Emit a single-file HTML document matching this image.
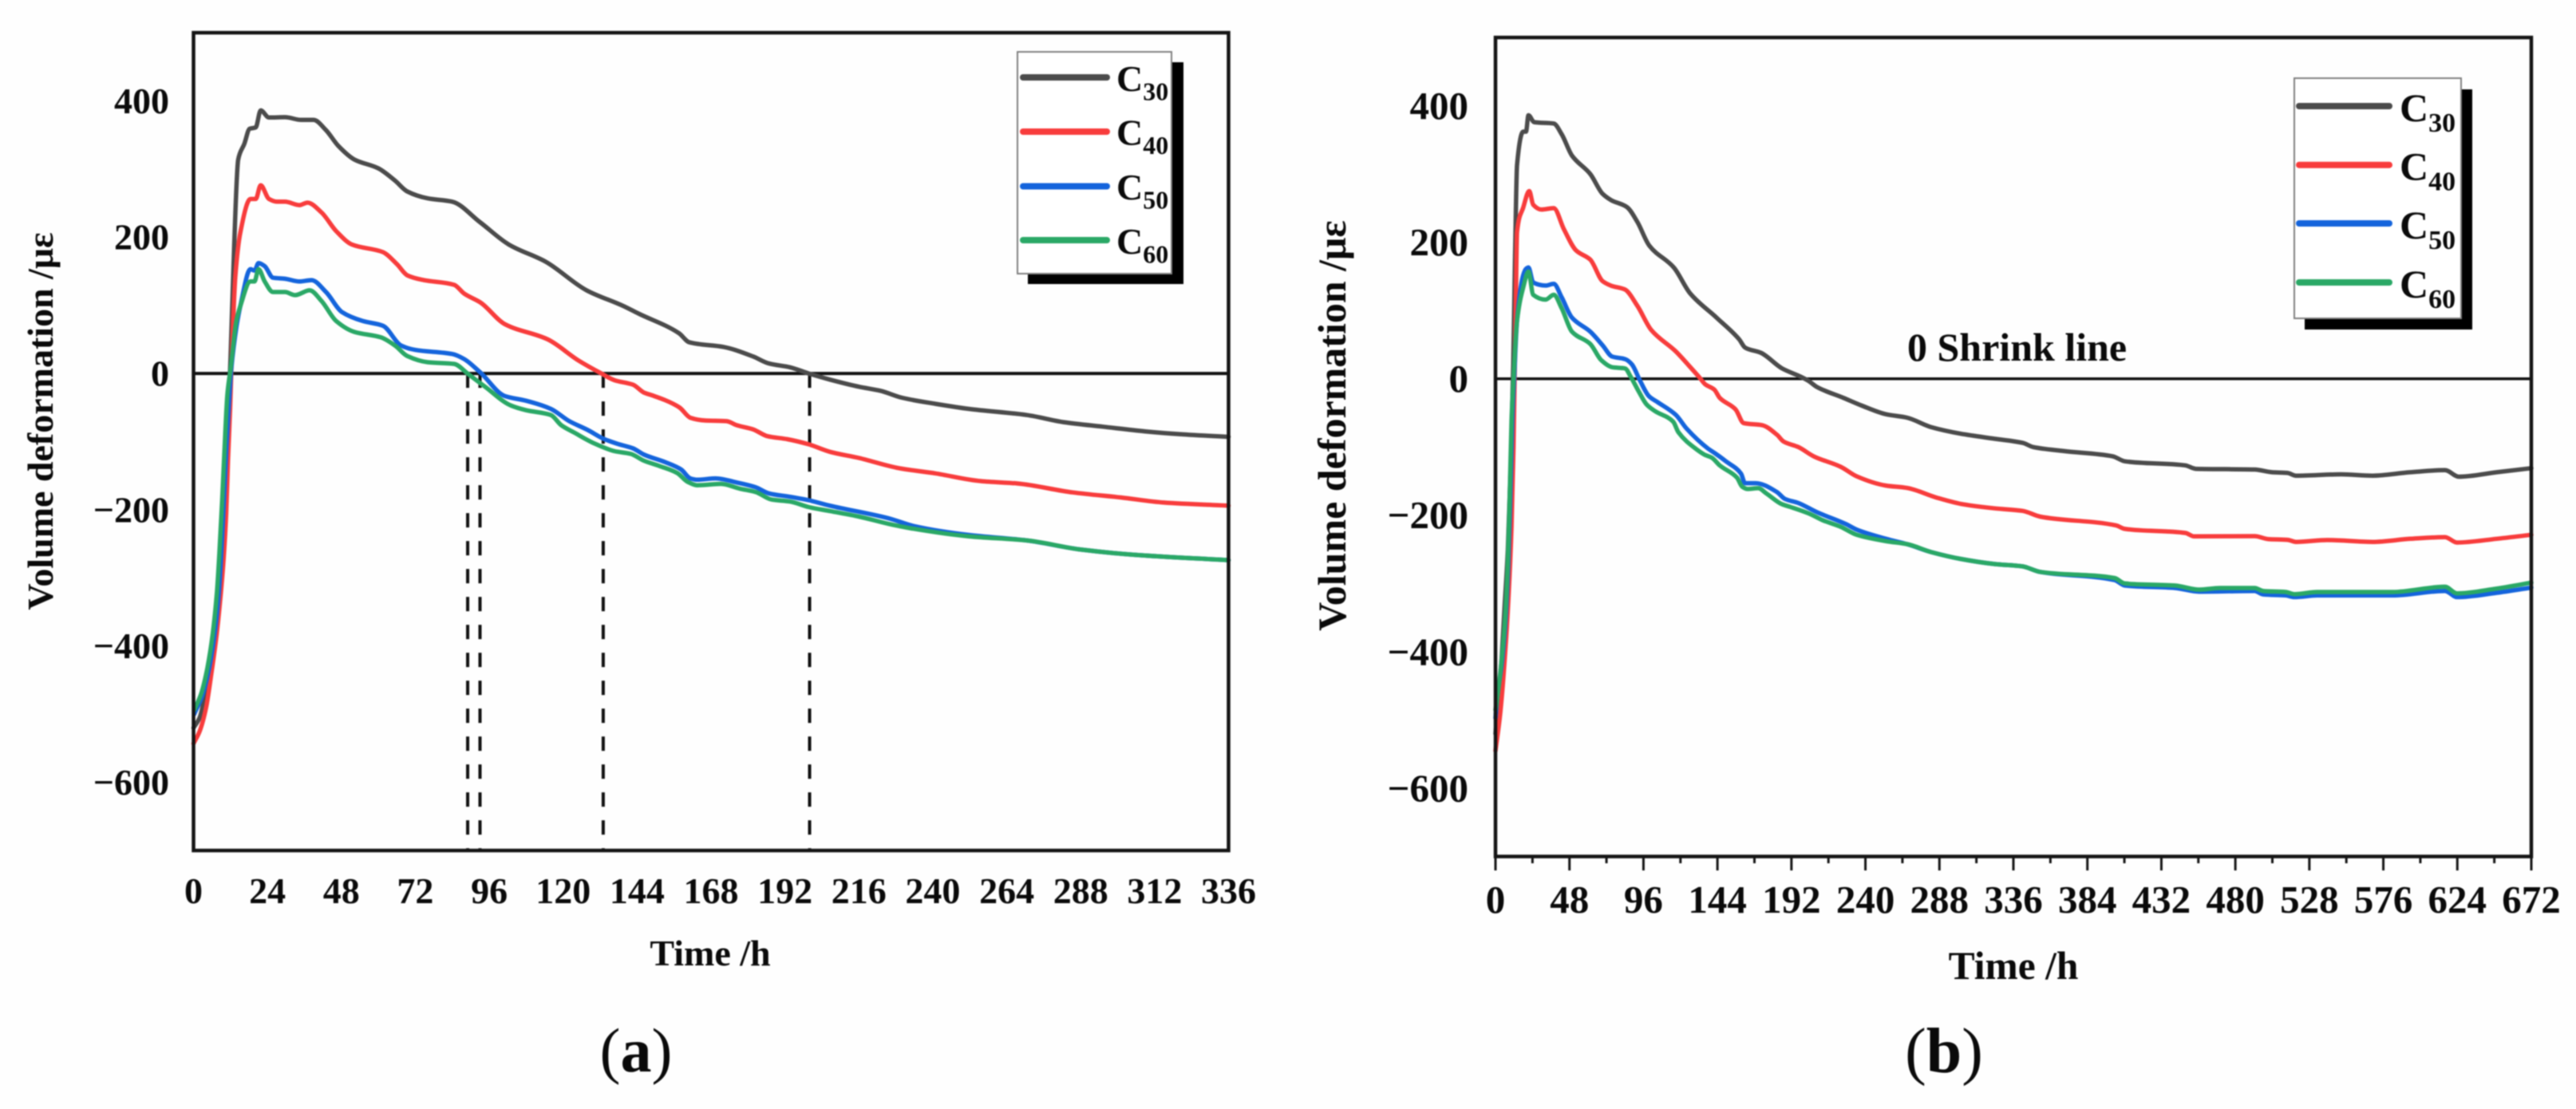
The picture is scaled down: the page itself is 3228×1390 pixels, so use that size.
<!DOCTYPE html>
<html lang="en">
<head>
<meta charset="utf-8">
<title>Volume deformation over time</title>
<style>
html,body{margin:0;padding:0;background:#fff;width:3228px;height:1390px;overflow:hidden}
svg{display:block;filter:blur(0.7px)}
text{font-family:"Liberation Serif",serif;fill:#0a0a0a}
.b{font-weight:bold}
</style>
</head>
<body>
<svg id="chart" xmlns="http://www.w3.org/2000/svg" width="3228" height="1390" viewBox="0 0 3228 1390">
  <rect x="0" y="0" width="3228" height="1390" fill="#fefefe"/>

  <g id="panelA">
    <g id="seriesA"></g>
    <rect x="242.5" y="41" width="1297" height="1025" fill="none" stroke="#141414" stroke-width="4.5"/>
    <g id="labelsA"></g>
    <text class="b" x="890" y="1210" font-size="46" text-anchor="middle">Time /h</text>
    <text class="b" transform="translate(66,528) rotate(-90)" font-size="46" text-anchor="middle">Volume deformation /με</text>
    <g>
      <rect x="1288" y="78" width="195" height="278" fill="#000"/>
      <rect x="1275" y="65" width="193" height="278" fill="#fff" stroke="#808080" stroke-width="2"/>
      <line x1="1282" x2="1387" y1="97" y2="97" stroke="#4b4b4b" stroke-width="8" stroke-linecap="round"/>
      <line x1="1282" x2="1387" y1="165" y2="165" stroke="#f83c3c" stroke-width="8" stroke-linecap="round"/>
      <line x1="1282" x2="1387" y1="233.5" y2="233.5" stroke="#1464dc" stroke-width="8" stroke-linecap="round"/>
      <line x1="1282" x2="1387" y1="301" y2="301" stroke="#2aa866" stroke-width="8" stroke-linecap="round"/>
      <text class="b" x="1399" y="114" font-size="46">C<tspan font-size="32" dy="11.5">30</tspan></text>
      <text class="b" x="1399" y="181.5" font-size="46">C<tspan font-size="32" dy="11.5">40</tspan></text>
      <text class="b" x="1399" y="250" font-size="46">C<tspan font-size="32" dy="11.5">50</tspan></text>
      <text class="b" x="1399" y="318" font-size="46">C<tspan font-size="32" dy="11.5">60</tspan></text>
    </g>
    <text x="797" y="1343" font-size="78" text-anchor="middle">(<tspan font-weight="bold">a</tspan>)</text>
  </g>

  <g id="panelB">
    <g id="seriesB"></g>
    <rect x="1874" y="47" width="1298" height="1026.5" fill="none" stroke="#141414" stroke-width="4.5"/>
    <g id="labelsB"></g>
    <text class="b" x="2523" y="1227" font-size="49.5" text-anchor="middle">Time /h</text>
    <text class="b" transform="translate(1686,533.5) rotate(-90)" font-size="50" text-anchor="middle">Volume deformation /με</text>
    <text class="b" x="2390" y="452" font-size="50">0 Shrink line</text>
    <g>
      <rect x="2888" y="112" width="210" height="301" fill="#000"/>
      <rect x="2875" y="98" width="209" height="301" fill="#fff" stroke="#808080" stroke-width="2"/>
      <line x1="2881" x2="2994" y1="133" y2="133" stroke="#4b4b4b" stroke-width="8" stroke-linecap="round"/>
      <line x1="2881" x2="2994" y1="206.7" y2="206.7" stroke="#f83c3c" stroke-width="8" stroke-linecap="round"/>
      <line x1="2881" x2="2994" y1="280" y2="280" stroke="#1464dc" stroke-width="8" stroke-linecap="round"/>
      <line x1="2881" x2="2994" y1="354" y2="354" stroke="#2aa866" stroke-width="8" stroke-linecap="round"/>
      <text class="b" x="3007" y="152" font-size="50">C<tspan font-size="34" dy="13">30</tspan></text>
      <text class="b" x="3007" y="225.6" font-size="50">C<tspan font-size="34" dy="13">40</tspan></text>
      <text class="b" x="3007" y="299" font-size="50">C<tspan font-size="34" dy="13">50</tspan></text>
      <text class="b" x="3007" y="373" font-size="50">C<tspan font-size="34" dy="13">60</tspan></text>
    </g>
    <text x="2436" y="1344" font-size="80" text-anchor="middle">(<tspan font-weight="bold">b</tspan>)</text>
  </g>
</svg>

<script>
// ---------- Shared axis labels ----------
const yTickValues = [400, 200, 0, -200, -400, -600];
const xTicksA = [0,24,48,72,96,120,144,168,192,216,240,264,288,312,336];
const xTicksB = [0,48,96,144,192,240,288,336,384,432,480,528,576,624,672];
const xMinorTicksB = [24,72,120,168,216,264,312,360,408,456,504,552,600,648];
const crossingHoursA = [89,93,133,200];
const seriesNames = ['c30','c40','c50','c60'];

// ---------- Panel (a) data: hours and volume deformation ----------
const c30HoursA = [0,2,4,6,8,10,12,13.2,14.5,16.5,18.2,20.2,21.8,24.5,29.7,35,39,43,47,52.2,60,65.4,69.4,76,84,93,102.4,114.3,127.6,139.5,144.4,157.6,161,172,181.6,186.8,193.7,199.7,206.6,216,223,230,240.8,251.7,270.5,282.4,295,309,320,336];
const c30ValuesA = [-520,-505,-465,-410,-325,-170,20,189,314,337,359,361,386,375.5,376,372,372,357,334,314,301,283,267,257,252,222,189,164,122,99,88,59,45.6,39,25,14.6,9,0,-9,-19.5,-25.4,-35.6,-44.5,-52,-61,-71.4,-78,-85,-89,-93];
const c40HoursA = [0,2,4.1,5.8,7.56,8.85,9.9,10.6,11.2,11.9,12.3,13.6,15.2,18.5,20.2,21.8,24.5,27.1,29.7,34.4,37,41.6,46.3,51.5,61.5,66.1,69.4,74.7,84.6,87.9,93.2,101,115,125,132.4,136.7,142.7,146.2,148.8,153,157.8,161.3,166,173,176.4,181.6,186.3,192.8,199.7,206.6,216,229,240.8,255.6,267.5,285.4,301,315,336];
const c40ValuesA = [-543,-525,-490,-440,-381,-323,-264,-206,-128,-50,8.8,144,207,256,256,276,256,252,252,247,250.6,236,209,189,178,160,144,137,130,117,104,72.5,50,19,0,-10,-16.5,-28,-32,-39,-50,-65,-69,-70,-76,-82,-92,-96.5,-104,-115,-124,-139,-146.6,-158,-161.5,-174.6,-182,-189.5,-194];
const c50HoursA = [0.2,3,5.1,6.9,8.2,9.9,10.7,11.7,12.3,14,15.2,18.5,19.8,21.1,23.1,25.8,29.7,34.4,38.3,43,48.2,54.9,61.5,67.4,72,84,87.9,93.2,101,108,116,122,128,133.2,137.5,142.7,146.2,153,158.3,161.3,163.5,169.5,176.4,182.5,186.8,193.7,199.7,206.6,226,233.9,251.7,270.5,287.4,305,336];
const c50ValuesA = [-500,-471,-432,-381,-323,-186,-108,-30,8.8,70,99,153,151,162,157.5,140.5,139,135,137,119.5,90,77,70,41,34.5,28.6,21,1,-33,-40,-52,-70,-83,-96,-103,-110,-119,-130,-141,-154,-156,-154,-160,-167,-176,-181,-186,-194,-213,-224,-237,-245,-258,-266,-274];
const c60HoursA = [0.2,2.4,4.5,6.26,7.56,8.4,9.3,10.1,11,12.1,13.9,15.2,18.5,19.8,21.1,23.1,25.8,29.7,33,37.7,41.6,46.3,52.2,60.8,65.4,69.4,76,84.6,89.2,94.5,103,108,116,119.4,123.7,129.8,136.7,141.9,146.2,151.4,157,160.4,163.5,171.2,177.3,182.5,187.6,193.7,199.7,206.6,216,226,233.9,251.7,270.5,287.4,305,336];
const c60ValuesA = [-494,-471,-432,-381,-323,-264,-186,-108,-30,8.8,77,99,135,135,153,135,119.5,119.5,115,122,106,77,61,53,41,25.5,16.5,14,-1,-19,-47,-54,-61,-76,-87,-102,-114,-118,-128,-136,-146,-159,-164,-162,-169,-174,-185,-188,-196,-202,-210,-221,-228,-239,-245,-258,-266,-274];

// ---------- Panel (b) data: hours and volume deformation ----------
const c30HoursB = [0,2,4,6,8,10,11.5,12.7,14,18,19.8,21.4,25.1,37.8,43,49.6,61.5,69.5,74.8,85.3,92,99.8,115.7,126.3,143.4,158,162,172.2,186,198,203,208.5,225.7,237.8,253.3,267,282.7,301.7,324,342,348.8,369,400.4,408.3,447.6,454.3,492.5,503.7,513.8,519.4,548.6,569,593.5,616,625,649.6,672];
const c30ValuesB = [-520,-470,-410,-330,-250,-120,20,180,313,362,362,386,376,374,358,327,300,271,262,251.5,230,195,163,125,89.5,58,45.6,38,15,3,-3,-12,-28,-39.5,-52,-57,-71,-80.5,-88,-94,-100,-106,-113.6,-121,-127,-132,-133,-137,-138,-142,-140,-142,-137,-134,-143.6,-137,-131];
const c40HoursB = [0,3.1,6.6,8.6,10.4,11.7,12.4,13.2,14,18,21.9,24.5,29.8,37.8,44.4,52.3,61.5,69.5,74.8,84,92,101,117,125.6,132.5,136,142,145.5,155.8,161,173,182.6,186.9,196.4,206.7,224,234.3,253.3,267,286,303.4,324,342,353.3,402.7,408.3,447.6,453.2,492.5,501.5,513.8,519.4,539.6,569,593.5,616,623.8,649.6,672];
const c40ValuesB = [-545,-490,-392,-314,-217,-100,0,110,215,251,275,255,248,250,219,188,174.5,143,136.5,130.7,107,71.6,40,19,1.4,-8,-16,-28,-45,-65,-68,-82,-92,-100,-114,-129,-143,-156.5,-160,-174,-184,-190,-193.6,-202,-215,-220,-226,-231,-230.6,-235,-236,-239,-236.4,-239,-234.5,-232,-240,-234.5,-228.6];
const c50HoursB = [0,1,4.4,6.6,8.3,9.6,10.9,12.1,14,18,19.8,21.4,24.5,32.5,37.8,43,49.6,61.5,69.5,75.6,84.2,88.5,93.7,99.7,105,117,124,137.7,142.9,149.8,159.3,161.9,168.8,182.6,187.7,196.4,208.5,227.4,234.3,253.3,267,282.7,301.7,324,342,353.3,401.6,408.3,440.8,456.6,492.5,498,512.7,518.3,533,582,616,623.8,649.6,672];
const c50ValuesB = [-497,-470,-412,-353,-275,-178,-61,0,85,152,161,163,141,136.5,139,119,89.5,69,49,32.6,28.7,21,-2.5,-26,-34,-53,-73,-102,-110,-121.4,-139,-153,-153,-166,-176,-182,-195.5,-213,-221,-234.5,-242.3,-254,-264,-271.5,-275,-283,-295,-303,-306.6,-312,-311,-316,-317.5,-320,-317.5,-317.5,-311,-320,-313.6,-306];
const c60HoursB = [0,0.5,4,6.2,7.9,9.15,10.4,11.7,14,18,21.4,24.5,32.5,37.8,43,49.6,61.5,68.7,75.6,84.2,87.6,92.8,98,103.2,115.3,118.7,130.8,136,140.3,145.5,156.7,160,163.6,170.5,175.7,186,191.2,203.3,212,224,234.3,253.3,267,282.7,301.7,324,342,353.3,401.6,408.3,440.8,456.6,470,492.5,498,512.7,518.3,533,582,616,623.8,649.6,672];
const c60ValuesB = [-485,-478,-412,-353,-275,-178,-61,0,85,134,157,123,116,123,103,69,51,27,17,15,3.4,-18,-37.6,-47,-63,-78.5,-104,-111.7,-115.6,-127,-145,-158,-161.6,-160.4,-168,-184,-187.7,-197.4,-207,-217,-228.6,-238,-242.3,-254,-264,-271.5,-275,-283,-292,-300,-303,-309,-306.6,-306.6,-311,-312.5,-315.6,-312.5,-312.5,-304.7,-314.4,-307.4,-298.8];

// ---------- Axis functions ----------
const SVG_NS = 'http://www.w3.org/2000/svg';
function xA(h){ return 242.5 + h * (1297 / 336); }
function yA(v){ return 41 + (500 - v) * (1025 / 1200); }
function xB(h){ return 1874 + h * (1298 / 672); }
function yB(v){ return 47 + (500 - v) * (1026.5 / 1200); }

const colors = ['#4b4b4b','#f83c3c','#1464dc','#2aa866'];

function svgEl(tag, attrs, parent){
  const el = document.createElementNS(SVG_NS, tag);
  for (const k in attrs) el.setAttribute(k, attrs[k]);
  parent.appendChild(el);
  return el;
}

// Monotone cubic path through the scaled data points.
function monotonePath(xs, ys){
  const n = xs.length, d = [], m = [];
  for (let i = 0; i < n - 1; i++) d.push((ys[i + 1] - ys[i]) / (xs[i + 1] - xs[i]));
  m.push(d[0]);
  for (let i = 1; i < n - 1; i++) {
    if (d[i - 1] * d[i] <= 0) { m.push(0); continue; }
    const h0 = xs[i] - xs[i - 1], h1 = xs[i + 1] - xs[i];
    m.push(3 * (h0 + h1) / ((2 * h1 + h0) / d[i - 1] + (h1 + 2 * h0) / d[i]));
  }
  m.push(d[n - 2]);
  let path = 'M' + xs[0].toFixed(1) + ' ' + ys[0].toFixed(1);
  for (let i = 0; i < n - 1; i++) {
    const h = (xs[i + 1] - xs[i]) / 3;
    path += 'C' + (xs[i] + h).toFixed(1) + ' ' + (ys[i] + m[i] * h).toFixed(1) + ' ' +
      (xs[i + 1] - h).toFixed(1) + ' ' + (ys[i + 1] - m[i + 1] * h).toFixed(1) + ' ' +
      xs[i + 1].toFixed(1) + ' ' + ys[i + 1].toFixed(1);
  }
  return path;
}

function drawSeries(parent, hours, values, color, sx, sy, name){
  const line = svgEl('path', {d: monotonePath(hours.map(sx), values.map(sy)), fill: 'none', stroke: color, 'stroke-width': 5.5, 'stroke-linejoin': 'round', 'stroke-linecap': 'round'}, parent);
  
  
}

function drawZero(parent, sx, sy, xMax, width, name){
  const zero = svgEl('line', {x1: sx(0), x2: sx(xMax), y1: sy(0), y2: sy(0), stroke: '#111', 'stroke-width': width}, parent);
  
  
}

function drawTickLabels(parent, sx, sy, xTicks, xBaseline, yRight, fontSize, panel){
  yTickValues.forEach(function(v){
    const t = svgEl('text', {x: yRight, y: sy(v) + fontSize * 0.335, 'font-size': fontSize, 'font-weight': 'bold', 'text-anchor': 'end'}, parent);
    t.textContent = v < 0 ? '\u2212' + Math.abs(v) : String(v);
    
    
  });
  xTicks.forEach(function(h){
    const t = svgEl('text', {x: sx(h), y: xBaseline, 'font-size': fontSize, 'font-weight': 'bold', 'text-anchor': 'middle'}, parent);
    t.textContent = String(h);
    
    
  });
}

// ---------- Panel (a) ----------
const groupA = document.getElementById('seriesA');
drawZero(groupA, xA, yA, 336, 4, 'zero-line-a');
crossingHoursA.forEach(function(h){
  const d = svgEl('line', {x1: xA(h), x2: xA(h), y1: yA(0), y2: yA(-700), stroke: '#111', 'stroke-width': 4, 'stroke-dasharray': '18 17'}, groupA);
  
  
});
const hoursSetA = [c30HoursA, c40HoursA, c50HoursA, c60HoursA];
const valuesSetA = [c30ValuesA, c40ValuesA, c50ValuesA, c60ValuesA];
seriesNames.forEach(function(n, i){
  drawSeries(groupA, hoursSetA[i], valuesSetA[i], colors[i], xA, yA, 'series-' + n + '-a');
});
drawTickLabels(document.getElementById('labelsA'), xA, yA, xTicksA, 1132, 212, 46, 'a');

// ---------- Panel (b) ----------
const groupB = document.getElementById('seriesB');
drawZero(groupB, xB, yB, 672, 3.5, 'zero-shrink-line');
const hoursSetB = [c30HoursB, c40HoursB, c50HoursB, c60HoursB];
const valuesSetB = [c30ValuesB, c40ValuesB, c50ValuesB, c60ValuesB];
seriesNames.forEach(function(n, i){
  drawSeries(groupB, hoursSetB[i], valuesSetB[i], colors[i], xB, yB, 'series-' + n + '-b');
});
const labelsB = document.getElementById('labelsB');
xTicksB.forEach(function(h){
  const tick = svgEl('line', {x1: xB(h), x2: xB(h), y1: 1073, y2: 1091, stroke: '#141414', 'stroke-width': 3}, labelsB);
  
  
});
xMinorTicksB.forEach(function(h){
  const tick = svgEl('line', {x1: xB(h), x2: xB(h), y1: 1073, y2: 1082, stroke: '#141414', 'stroke-width': 3}, labelsB);
  
  
});
drawTickLabels(labelsB, xB, yB, xTicksB, 1144, 1840, 49, 'b');
</script>
</body>
</html>
